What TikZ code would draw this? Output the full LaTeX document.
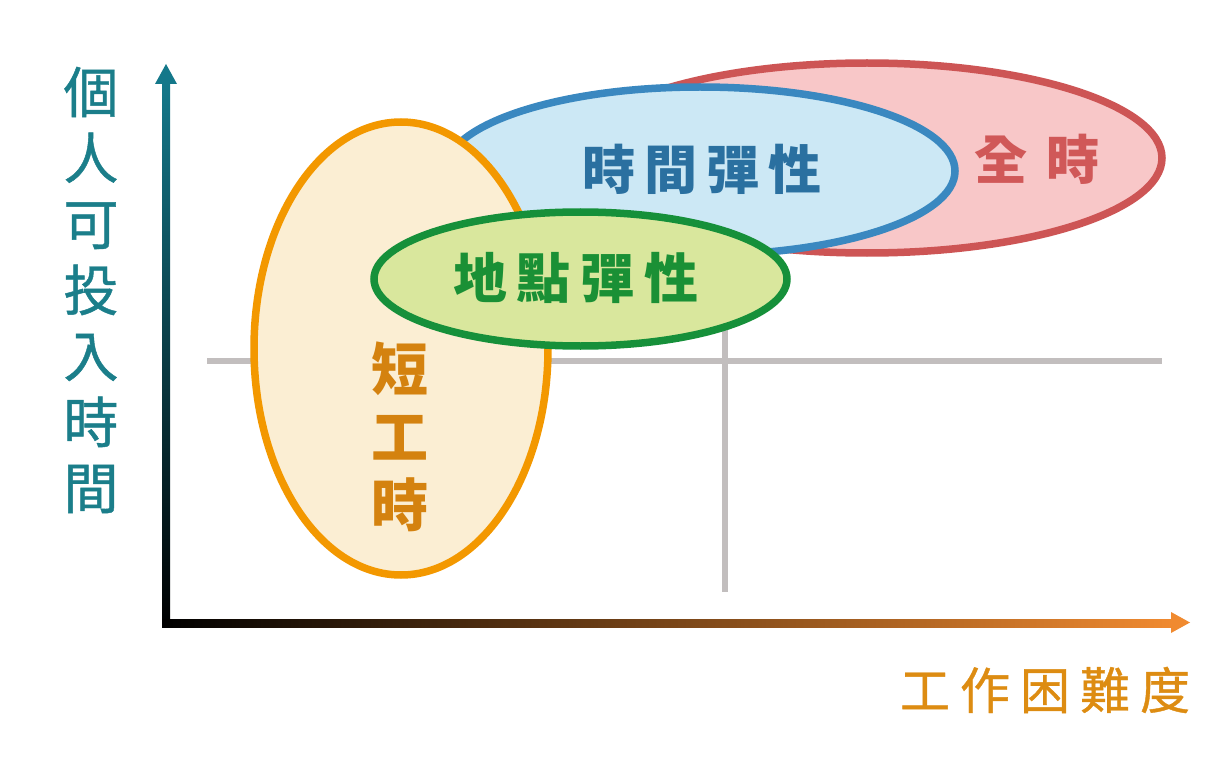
\documentclass[tikz,border=0pt]{standalone}
\usepackage{fontspec}
\newfontfamily\cjk{Noto Sans CJK TC}
\newfontfamily\cjkmed[FakeBold=0.8]{Noto Sans CJK TC}
\definecolor{axteal}{HTML}{14788A}
\definecolor{axtealmid}{HTML}{2E5A64}
\definecolor{axorange}{HTML}{F08A30}
\definecolor{axorangemid}{HTML}{7C6450}
\definecolor{ylab}{HTML}{1B7E8A}
\definecolor{xlab}{HTML}{DD8C12}
\definecolor{gridgray}{HTML}{C2BEBE}
\definecolor{redS}{HTML}{CD5555}
\definecolor{redF}{HTML}{F8C7C8}
\definecolor{redT}{HTML}{D05858}
\definecolor{bluS}{HTML}{3A88C0}
\definecolor{bluF}{HTML}{CCE8F5}
\definecolor{bluT}{HTML}{2A70A0}
\definecolor{oraS}{HTML}{F39800}
\definecolor{oraF}{HTML}{FBEED3}
\definecolor{oraT}{HTML}{D4820F}
\definecolor{grnS}{HTML}{16903A}
\definecolor{grnF}{HTML}{D9E79D}
\definecolor{grnT}{HTML}{1A9035}
\tikzset{
  gridline/.style={gridgray, line width=6pt},
  blob/.style={line width=7.5pt},
  lbl/.style={inner sep=0pt, outer sep=0pt},
}
\begin{document}
\begin{tikzpicture}[x=1pt,y=-1pt]
\useasboundingbox (0,0) rectangle (1227,781);
% grid lines
\draw[gridline] (207,361) -- (1162,361);
\draw[gridline] (725,330) -- (725,592);
% axes
\shade[top color=axteal, middle color=axtealmid, bottom color=black] (162,83) rectangle (170,627);
\shade[left color=black, middle color=axorangemid, right color=axorange] (162,619) rectangle (1172,627);
\fill[axteal] (155,84) -- (177,84) -- (166,64) -- cycle;
\fill[axorange] (1171,612) -- (1171,633) -- (1190,622.5) -- cycle;
% ellipses
\draw[blob, draw=redS, fill=redF] (867,158) ellipse [x radius=295, y radius=95];
\draw[blob, draw=bluS, fill=bluF] (700,171) ellipse [x radius=255, y radius=84];
\draw[blob, draw=oraS, fill=oraF] (401,348.5) ellipse [x radius=147, y radius=226.5];
\draw[blob, draw=grnS, fill=grnF] (580.5,279) ellipse [x radius=206.5, y radius=67];
% labels
\node[lbl, font=\cjkmed\fontsize{55}{66}\selectfont, text=ylab, align=center] (ylabel) at (91,290) {個\\人\\可\\投\\入\\時\\間};
\node[lbl, font=\cjkmed\fontsize{50}{60}\selectfont, text=xlab] (xlabel) at (1045,690) {工\kern10pt 作\kern10pt 困\kern10pt 難\kern10pt 度};
\node[lbl, font=\cjk\bfseries\fontsize{53}{60}\selectfont, text=bluT] (flextime) at (702,169) {時\kern9pt 間\kern9pt 彈\kern9pt 性};
\node[lbl, font=\cjk\bfseries\fontsize{54}{60}\selectfont, text=grnT] (flexplace) at (576,277.5) {地\kern10pt 點\kern10pt 彈\kern10pt 性};
\node[lbl, font=\cjk\bfseries\fontsize{53}{60}\selectfont, text=redT] (fulltime) at (1037,159) {全\kern20pt 時};
\node[lbl, font=\cjk\bfseries\fontsize{57}{68}\selectfont, text=oraT, align=center] (parttime) at (400,437) {短\\工\\時};
\end{tikzpicture}
\end{document}
